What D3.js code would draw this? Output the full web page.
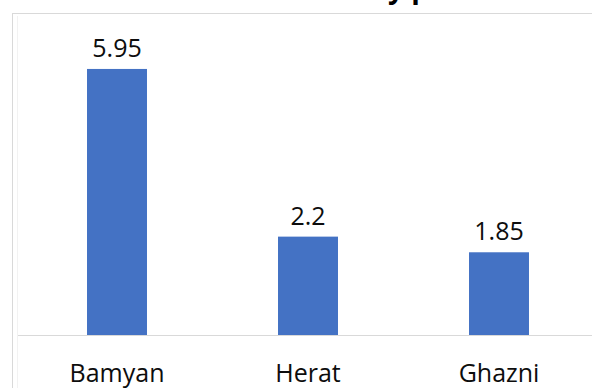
<!DOCTYPE html>
<html>
<head>
<meta charset="utf-8">
<script src="https://cdn.jsdelivr.net/npm/d3@7"></script>
<style>
  html, body { margin: 0; padding: 0; background: #fff; overflow: hidden; }
  svg { display: block; font-family: 'Open Sans', sans-serif; }
</style>
</head>
<body>
<svg id="chart"></svg>
<script>
'use strict';
const PROVINCES = ['Bamyan', 'Herat', 'Ghazni'];
const VALUES = [5.95, 2.2, 1.85];
const VALUE_LABELS = ['5.95', '2.2', '1.85'];
const TITLE = 'Saffron Production Rate by province';

const BAR_COLOR = '#4472c4';
const GRID_COLOR = '#d9d9d9';

drawChart();

function drawChart() {
  let width = 592,
    height = 388;
  let svg = d3.select('#chart').attr('width', width).attr('height', height);

  // title, only its descenders peek in at the top (cut off as in the source)
  svg
    .append('text')
    .attr('x', 280)
    .attr('y', -2)
    .attr('text-anchor', 'middle')
    .attr('font-size', 28)
    .attr('font-weight', 'bold')
    .attr('fill', '#000')
    .text(TITLE);

  // chart frame
  svg
    .append('rect')
    .attr('x', 12.5)
    .attr('y', 13.5)
    .attr('width', 620)
    .attr('height', 420)
    .attr('fill', '#fff')
    .attr('stroke', GRID_COLOR);

  svg
    .append('line')
    .attr('x1', 17.5)
    .attr('x2', 17.5)
    .attr('y1', 16)
    .attr('y2', 400)
    .attr('stroke', '#f2f2f2');

  let x = d3
    .scaleBand()
    .domain(PROVINCES)
    .range([21.5, 594.5])
    .paddingInner(0.686)
    .paddingOuter(0.343);

  let y = d3.scaleLinear().domain([0, 7]).range([335, 22]);

  // baseline + category labels
  svg
    .append('g')
    .attr('transform', 'translate(0,' + y(0) + ')')
    .call(d3.axisBottom(x).tickSize(0).tickPadding(29))
    .call((g) =>
      g.select('.domain').attr('stroke', GRID_COLOR).attr('d', 'M18,0.5H592')
    )
    .call((g) =>
      g
        .selectAll('.tick text')
        .attr('font-family', "'Open Sans', sans-serif")
        .attr('font-size', 25)
        .attr('fill', '#0d0d0d')
    );

  let data = PROVINCES.map((p, i) => ({
    name: p,
    value: VALUES[i],
    label: VALUE_LABELS[i],
  }));

  svg
    .append('g')
    .selectAll('rect')
    .data(data)
    .enter()
    .append('rect')
    .attr('x', (d) => x(d.name))
    .attr('y', (d) => y(d.value))
    .attr('width', x.bandwidth())
    .attr('height', (d) => y(0) - y(d.value))
    .attr('fill', BAR_COLOR);

  svg
    .append('g')
    .selectAll('text')
    .data(data)
    .enter()
    .append('text')
    .attr('x', (d) => x(d.name) + x.bandwidth() / 2)
    .attr('y', (d) => y(d.value) - 12)
    .attr('text-anchor', 'middle')
    .attr('font-size', 25)
    .attr('fill', '#0d0d0d')
    .text((d) => d.label);
}
</script>
</body>
</html>
